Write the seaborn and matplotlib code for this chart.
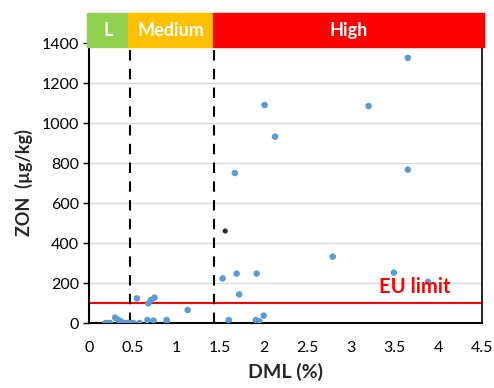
import numpy as np
import pandas as pd
import matplotlib
matplotlib.use("Agg")
import matplotlib.pyplot as plt
import seaborn as sns
from matplotlib.patches import Rectangle

# 数据
dml = [0.19, 0.22, 0.24, 0.30, 0.33, 0.36, 0.38, 0.41, 0.44, 0.48, 0.51, 0.55,
       0.58, 0.67, 0.68, 0.71, 0.75, 0.74, 0.89, 0.89, 1.13,
       1.53, 1.69, 1.92, 1.72, 1.60, 1.91, 1.95, 2.00, 1.67, 2.01, 2.13,
       2.79, 3.20, 3.49, 3.65, 3.65, 3.88]
zon = [0, 0, 0, 27, 17, 10, 2, 0, 0, 0, 0, 123,
       0, 15, 98, 115, 127, 12, 15, 7, 65,
       223, 247, 247, 143, 15, 15, 8, 37, 750, 1090, 932,
       332, 1085, 252, 1326, 767, 206]
dark_point = (1.56, 460)

eu_limit = 100
thresholds = [0.47, 1.43]
band_labels = ["L", "Medium", "High"]
band_edges = [-0.02, 0.45, 1.42, 4.52]
band_colors = ["#92D050", "#FFC000", "#FF0000"]

df = pd.DataFrame({"DML": dml, "ZON": zon})

sns.set_style("white")
plt.rcParams["font.family"] = ["Lato", "DejaVu Sans"]

fig = plt.figure(figsize=(4.94, 3.88), dpi=100)
ax = fig.add_axes([0.180, 0.1675, 0.796, 0.7215])

ax.yaxis.grid(True, color="#D9D9D9", linewidth=1)
ax.set_axisbelow(True)

sns.scatterplot(data=df, x="DML", y="ZON", ax=ax, color="#5B9BD5",
                s=22, edgecolor="none", zorder=3)
ax.scatter([dark_point[0]], [dark_point[1]], color="#1F2A3A", s=14,
           zorder=4, edgecolor="none")

ax.axhline(eu_limit, color="red", linewidth=1.5, zorder=2)
ax.text(3.73, 132, "EU limit", color="red", fontsize=14.5, fontweight="bold",
        ha="center", va="bottom", zorder=5)

for t in thresholds:
    ax.plot([t, t], [0, 1400], color="black", linestyle=(0, (5, 4)),
            linewidth=1.5, zorder=2)

# 顶部分级色带
for lab, x0, x1, c in zip(band_labels, band_edges[:-1], band_edges[1:], band_colors):
    trans = ax.get_xaxis_transform()
    ax.add_patch(Rectangle((x0, 0.986), x1 - x0, 0.121, transform=trans,
                           color=c, clip_on=False, zorder=6))
    ax.text((x0 + x1) / 2, 1.046, lab, transform=trans, color="white",
            fontsize=13, fontweight="bold", ha="center", va="center",
            zorder=7)

ax.set_xlim(0, 4.5)
ax.set_ylim(0, 1400)
ax.set_xticks(np.arange(0, 4.51, 0.5))
ax.set_xticklabels(["0", "0.5", "1", "1.5", "2", "2.5", "3", "3.5", "4", "4.5"])
ax.set_yticks(np.arange(0, 1401, 200))
ax.tick_params(axis="both", labelsize=11.5, colors="black")
ax.tick_params(axis="y", length=4, width=1, direction="out", left=True, pad=3)
ax.tick_params(axis="x", length=0, pad=13)

for s in ["left", "bottom", "right"]:
    ax.spines[s].set_color("black")
    ax.spines[s].set_linewidth(1.5)
ax.spines["right"].set_linewidth(1.2)
ax.spines["top"].set_visible(False)

ax.set_xlabel("DML (%)", fontsize=14, fontweight="bold", labelpad=6)
ax.set_ylabel("ZON  (\u00b5g/kg)", fontsize=13, fontweight="bold", labelpad=6)

fig.savefig("out.png", dpi=100)
